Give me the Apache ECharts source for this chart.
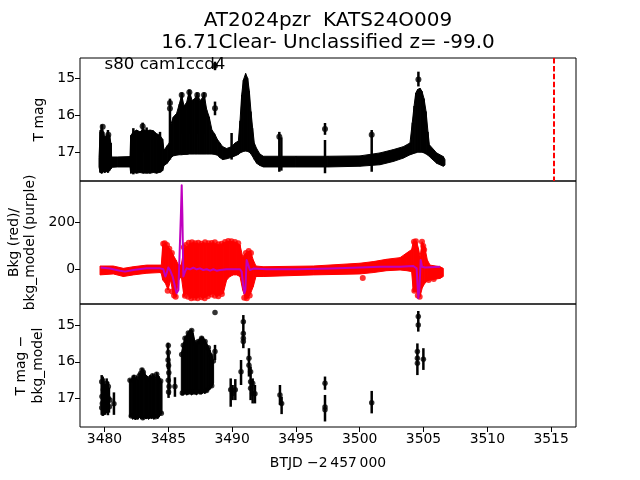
<!DOCTYPE html>
<html><head><meta charset="utf-8">
<script src="https://cdn.jsdelivr.net/npm/echarts@6/dist/echarts.min.js"></script>
<style>html,body{margin:0;padding:0;background:#fff}#c{width:640px;height:480px}</style>
</head><body><div id="c"></div>
<script>
// ---------- tick labels ----------
const xTicks = [3480, 3485, 3490, 3495, 3500, 3505, 3510, 3515];
const magTicks = [15, 16, 17];
const bkgTicks = [0, 200];

// ---------- panel 1 : T mag (dense band envelope) ----------
const p1BandT   = [3479.57,3479.66,3479.80,3479.91,3480.01,3480.17,3480.27,3480.38,3480.50,3480.56,3481.00,3482.00,3482.05,3482.26,3482.52,3482.78,3483.04,3483.30,3483.57,3483.83,3484.09,3484.35,3484.56,3484.66,3484.92,3485.08,3485.20,3485.39,3485.65,3485.86,3486.05,3486.23,3486.44,3486.65,3486.86,3487.07,3487.27,3487.48,3487.64,3487.80,3488.01,3488.21,3488.42,3488.63,3488.84,3489.05,3489.26,3489.57,3489.96,3490.23,3490.49,3490.62,3490.75,3490.88,3491.06,3491.22,3491.35,3491.48,3491.61,3491.74,3491.92,3492.18,3492.45,3495.00,3497.50,3500.02,3501.59,3502.64,3503.42,3503.94,3504.12,3504.26,3504.39,3504.54,3504.73,3504.88,3505.04,3505.20,3505.35,3505.46,3506.03,3506.55,3506.68];
const p1BandTop = [17.15,16.45,16.30,16.45,16.60,16.55,16.42,16.55,16.75,17.13,17.13,17.12,16.55,16.45,16.40,16.45,16.38,16.42,16.40,16.42,16.50,16.55,16.65,16.95,16.82,16.75,16.25,16.05,15.95,15.70,15.45,15.75,15.65,15.33,15.60,15.55,15.42,15.60,15.55,15.42,15.85,16.05,16.40,16.50,16.65,16.75,16.85,16.90,16.85,16.75,16.70,16.15,15.45,15.05,14.87,15.00,15.35,15.90,16.35,16.75,16.90,17.05,17.11,17.11,17.11,17.10,17.02,16.93,16.85,16.75,16.20,15.75,15.40,15.30,15.27,15.35,15.55,15.90,16.45,16.80,17.02,17.12,17.20];
const p1BandBot = [17.40,17.55,17.57,17.52,17.55,17.52,17.55,17.50,17.45,17.41,17.40,17.40,17.57,17.55,17.57,17.55,17.57,17.56,17.57,17.55,17.57,17.54,17.50,17.36,17.30,17.22,17.15,17.10,17.08,17.07,17.07,17.06,17.06,17.05,17.05,17.05,17.05,17.05,17.05,17.05,17.05,17.05,17.05,17.06,17.08,17.15,17.20,17.18,17.14,17.10,17.06,17.02,17.00,16.98,16.97,16.98,17.00,17.05,17.12,17.20,17.30,17.36,17.40,17.40,17.40,17.38,17.34,17.25,17.16,17.07,17.05,17.03,17.02,17.00,17.00,17.00,17.02,17.05,17.08,17.12,17.30,17.38,17.35];
// panel 1 error bars
const p1BarT  = [3479.70,3479.80,3479.91,3480.01,3480.17,3480.27,3480.38,3480.48,3482.26,3482.99,3483.30,3484.35,3485.13,3486.05,3486.65,3487.27,3487.80,3488.66,3488.66,3489.96,3493.70,3493.86,3497.28,3497.28,3500.94,3504.60];
const p1BarLo = [16.40,16.25,16.45,16.60,16.55,16.40,16.55,16.75,16.35,16.20,16.33,16.45,15.55,15.38,15.30,15.38,15.38,15.63,14.55,16.48,16.45,16.60,16.21,16.67,16.40,14.82];
const p1BarHi = [17.55,17.57,17.50,17.55,17.52,17.55,17.50,17.45,17.60,17.00,17.58,17.55,17.20,16.50,16.50,16.50,16.50,16.00,14.78,17.20,17.53,17.50,16.53,17.57,17.53,15.22];
// panel 1 points
const p1PtT   = [3479.86,3480.30,3482.99,3485.13,3485.13,3488.66,3488.66,3493.70,3497.28,3500.94,3504.60,3486.05,3486.65,3487.27,3487.80];
const p1PtMag = [16.31,16.53,16.30,15.67,15.82,15.81,14.66,16.58,16.37,16.53,15.03,15.45,15.38,15.45,15.45];
const refLineT = 3515.17;

// ---------- panel 2 : background ----------
const bkgBandT   = [3479.65,3480.69,3481.48,3482.26,3483.30,3484.35,3484.45,3484.56,3484.77,3484.98,3485.18,3485.39,3485.60,3485.81,3486.02,3486.23,3486.44,3486.70,3486.96,3487.22,3487.48,3487.74,3488.01,3488.27,3488.53,3488.79,3489.05,3489.31,3489.57,3489.83,3490.10,3490.36,3490.62,3490.83,3491.04,3491.25,3491.45,3491.66,3491.87,3492.45,3496.36,3500.02,3501.07,3502.11,3503.16,3503.68,3504.07,3504.20,3504.46,3504.60,3504.73,3504.90,3505.10,3505.30,3505.51,3506.29,3506.55];
const bkgBandTop = [14,14,4,11,18,18,18,104,111,97,83,61,40,18,18,90,97,111,114,111,108,114,111,111,114,108,104,114,118,120,118,114,104,54,68,76,76,40,14,11,14,26,33,43,50,70,85,118,118,90,54,118,95,40,18,11,4];
const bkgBandBot = [-24,-20,-31,-24,-17,-14,-17,-46,-60,-89,-46,-110,-117,-46,-31,-117,-103,-124,-120,-124,-117,-124,-117,-110,-103,-117,-110,-103,-46,-31,-24,-24,-31,-89,-124,-124,-103,-74,-31,-31,-24,-20,-14,-6,-3,-6,-10,-96,-96,-117,-117,-80,-60,-50,-46,-39,-31];
const bkgPtT = [3484.60,3484.72,3484.90,3485.08,3485.28,3484.95,3485.30,3485.45,3485.58,3486.22,3486.38,3486.60,3486.85,3487.10,3487.35,3487.60,3487.88,3488.15,3488.40,3488.65,3488.92,3489.18,3489.45,3489.70,3489.95,3490.22,3490.48,3486.30,3486.55,3486.80,3487.05,3487.30,3487.60,3487.85,3488.10,3488.40,3488.65,3488.92,3489.20,3490.95,3491.15,3491.38,3491.08,3491.30,3491.48,3504.25,3504.40,3504.88,3504.98,3505.05,3504.28,3504.55,3504.70,3505.40,3505.80,3500.24];
const bkgPtV = [110,112,104,88,70,-92,-95,-112,-118,95,104,114,116,112,114,110,116,112,113,116,108,110,117,121,120,117,112,-114,-118,-124,-122,-124,-120,-124,-116,-108,-114,-116,-106,-122,-124,-112,70,78,70,118,120,118,100,84,-92,-112,-118,-46,-42,-37];
const modelT = [3479.70,3480.43,3481.21,3481.61,3482.26,3483.30,3484.35,3484.61,3484.77,3484.87,3485.00,3485.13,3485.34,3485.52,3485.65,3485.79,3485.86,3485.99,3486.05,3486.10,3486.18,3486.31,3486.44,3486.70,3486.96,3487.22,3487.48,3487.74,3488.01,3488.27,3488.53,3488.79,3489.05,3489.57,3490.10,3490.62,3490.75,3490.88,3490.96,3491.04,3491.14,3491.27,3491.40,3491.66,3492.71,3495.06,3497.67,3500.02,3501.59,3503.16,3504.20,3504.46,3504.59,3504.67,3504.78,3504.88,3505.12,3506.29];
const modelV = [8,3,-6,-10,-3,4,4,0,-31,-17,8,-3,-31,-74,-103,-89,25,240,361,240,-31,-10,4,0,7,0,4,-3,0,-6,0,-6,-3,0,0,0,-10,-74,-103,-89,40,18,-3,3,0,0,3,8,11,11,14,4,-124,-89,40,11,8,11];

// ---------- panel 3 : T mag - bkg_model ----------
// dense blocks (envelopes)
const p3Blk2T   = [3481.95,3482.10,3482.21,3482.31,3482.42,3482.52,3482.63,3482.73,3482.83,3482.94,3483.04,3483.15,3483.25,3483.36,3483.46,3483.57,3483.67,3483.77,3483.88,3483.98,3484.09,3484.19,3484.30,3484.40,3484.51];
const p3Blk2Top = [16.47,16.49,16.40,16.36,16.45,16.38,16.48,16.33,16.27,16.18,16.22,16.31,16.36,16.40,16.45,16.36,16.42,16.33,16.38,16.45,16.29,16.37,16.40,16.49,16.58];
const p3Blk2Bot = [17.50,17.49,17.56,17.53,17.58,17.53,17.56,17.51,17.54,17.53,17.56,17.52,17.55,17.53,17.56,17.51,17.54,17.53,17.56,17.52,17.51,17.54,17.49,17.44,17.40];
const p3Blk4T   = [3486.02,3486.18,3486.31,3486.44,3486.57,3486.70,3486.83,3486.96,3487.09,3487.22,3487.35,3487.48,3487.61,3487.74,3487.88,3488.01,3488.14,3488.27,3488.40,3488.55];
const p3Blk4Top = [15.77,15.50,15.32,15.27,15.18,15.14,15.12,15.23,15.45,15.50,15.41,15.36,15.32,15.34,15.41,15.50,15.59,15.68,15.81,15.95];
const p3Blk4Bot = [16.90,16.90,16.86,16.90,16.86,16.87,16.90,16.86,16.87,16.90,16.84,16.86,16.87,16.84,16.86,16.81,16.78,16.75,16.69,16.58];
// error bars
const p3BarT  = [3479.78,3479.86,3479.93,3480.04,3480.17,3480.27,3480.35,3480.74,
  3484.98,3485.02,3485.08,3485.52,
  3488.66,3489.89,3490.04,3490.25,3490.70,3490.88,3491.32,3491.45,3491.61,3491.79,3493.75,3493.88,3497.28,3497.28,3500.94,3504.52,3504.59,3504.99];
const p3BarLo = [16.36,16.40,16.45,16.60,16.45,16.55,16.70,16.83,
  15.48,15.80,16.00,16.42,
  15.54,16.45,16.63,16.47,15.95,14.73,15.63,16.13,16.45,16.63,16.63,16.95,16.40,16.90,16.79,15.50,14.62,15.63];
const p3BarHi = [17.44,17.47,17.45,17.44,17.40,17.45,17.38,17.44,
  16.20,16.98,16.90,16.95,
  15.95,17.22,17.04,17.04,16.63,15.63,16.40,17.04,17.13,17.13,17.17,17.42,16.76,17.62,17.40,16.36,15.18,16.22];
const p3PtT = [3479.78,3479.80,3479.83,3479.91,3480.04,3480.17,3480.30,3480.30,3480.38,3480.43,3480.74,3479.78,3480.04,
  3482.00,3482.31,3482.73,3482.83,3482.94,3483.04,3483.36,3483.77,3484.09,3484.40,3482.10,3482.50,3483.00,3483.50,3484.00,3484.45,
  3485.00,3485.00,3484.98,3485.02,3485.04,3485.00,3485.06,3485.02,3485.52,
  3486.05,3486.18,3486.31,3486.57,3486.83,3487.09,3487.35,3487.61,3487.88,3488.14,3488.40,3488.53,3486.10,3486.50,3487.00,3487.50,3488.00,3488.40,
  3488.66,3488.66,3489.89,3490.04,3490.25,3490.70,3490.88,3490.88,3490.88,3490.88,3491.32,3491.32,3491.45,3491.45,3491.45,3491.61,3491.61,3491.79,3493.75,3493.88,3497.28,3497.28,3497.28,3500.94,3504.59,3504.59,3504.52,3504.52,3504.52,3504.99];
const p3PtMag = [16.54,16.94,17.13,16.76,17.04,16.58,16.67,16.99,17.22,17.04,17.14,17.25,17.30,
  16.50,16.42,16.38,16.32,16.22,16.28,16.45,16.38,16.34,16.52,17.47,17.50,17.52,17.48,17.49,17.40,
  15.56,15.75,15.95,16.10,16.30,16.50,16.67,16.82,16.67,
  15.80,15.55,15.36,15.22,15.15,15.48,15.45,15.36,15.45,15.62,15.84,15.98,16.85,16.83,16.82,16.82,16.78,16.65,
  15.72,14.66,16.76,16.86,16.76,16.27,14.91,15.23,15.36,15.45,15.90,16.09,16.27,16.54,16.72,16.58,16.86,16.87,16.90,17.13,16.58,17.23,17.30,17.11,14.77,15.00,15.72,15.90,16.04,15.93];

// ---------- helpers ----------
function segs(T, A, B) { const o = []; for (let i = 0; i < T.length - 1; i++) o.push([T[i], A[i], B[i], T[i+1], A[i+1], B[i+1]]); return o; }
function zip() { const a = Array.from(arguments); return a[0].map((_, i) => a.map(x => x[i])); }
function bandRender(color) {
  return function (params, api) {
    const a0 = api.coord([api.value(0), api.value(1)]);
    const a1 = api.coord([api.value(3), api.value(4)]);
    const b1 = api.coord([api.value(3), api.value(5)]);
    const b0 = api.coord([api.value(0), api.value(2)]);
    return { type: 'polygon', shape: { points: [a0, a1, b1, b0] }, style: { fill: color, stroke: color, lineWidth: 1 } };
  };
}
function barRender(color, lw) {
  return function (params, api) {
    const p = api.coord([api.value(0), api.value(1)]);
    const q = api.coord([api.value(0), api.value(2)]);
    return { type: 'line', shape: { x1: p[0], y1: p[1], x2: q[0], y2: q[1] }, style: { stroke: color, lineWidth: lw, fill: null } };
  };
}

const FONT = 'DejaVu Sans';
const GL = 80, GW = 496, GH = 123;
const tops = [58, 181, 304];
const grids = tops.map(t => ({ left: GL, top: t, width: GW, height: GH, show: true, borderColor: '#000', borderWidth: 1, backgroundColor: 'transparent' }));

const xAxes = [0, 1, 2].map(i => ({
  type: 'value', gridIndex: i, min: 3478.08, max: 3516.95,
  axisLine: { show: false }, splitLine: { show: false },
  axisTick: { show: i === 2, customValues: xTicks, length: 5, lineStyle: { color: '#000', width: 1 } },
  axisLabel: { show: i === 2, customValues: xTicks, formatter: v => String(v), fontSize: 13.9, fontFamily: FONT, color: '#000', margin: 5 }
}));
function yAx(i, min, max, inv, ticks) {
  return {
    type: 'value', gridIndex: i, min: min, max: max, inverse: inv,
    axisLine: { show: false }, splitLine: { show: false },
    axisTick: { show: true, customValues: ticks, length: 5, lineStyle: { color: '#000', width: 1 } },
    axisLabel: { show: true, customValues: ticks, formatter: v => String(v), fontSize: 13.9, fontFamily: FONT, color: '#000', margin: 5 }
  };
}
const yAxes = [yAx(0, 14.45, 17.78, true, magTicks), yAx(1, -149, 379, false, bkgTicks), yAx(2, 14.43, 17.77, true, magTicks)];

const bandEnc = { x: [0, 3], y: [1, 2, 4, 5] };
const series = [
  // panel 1
  { type: 'custom', xAxisIndex: 0, yAxisIndex: 0, renderItem: bandRender('#000'), data: segs(p1BandT, p1BandTop, p1BandBot), encode: bandEnc, silent: true },
  { type: 'custom', xAxisIndex: 0, yAxisIndex: 0, renderItem: barRender('#000', 2.5), data: zip(p1BarT, p1BarLo, p1BarHi), encode: { x: 0, y: [1, 2] }, silent: true },
  { type: 'scatter', xAxisIndex: 0, yAxisIndex: 0, data: zip(p1PtT, p1PtMag), symbolSize: 6, itemStyle: { color: '#000' }, silent: true,
    markLine: { silent: true, symbol: ['none', 'none'], label: { show: false }, lineStyle: { color: '#ff0000', width: 2, type: [5.5, 2.4] }, data: [{ xAxis: refLineT }] } },
  // panel 2
  { type: 'custom', xAxisIndex: 1, yAxisIndex: 1, renderItem: bandRender('#ff0000'), data: segs(bkgBandT, bkgBandTop, bkgBandBot), encode: bandEnc, silent: true },
  { type: 'scatter', xAxisIndex: 1, yAxisIndex: 1, data: zip(bkgPtT, bkgPtV), symbolSize: 6, itemStyle: { color: '#ff0000' }, silent: true },
  { type: 'line', xAxisIndex: 1, yAxisIndex: 1, data: zip(modelT, modelV), showSymbol: false, lineStyle: { color: '#bf00bf', width: 2, join: 'round' }, z: 5, silent: true },
  // panel 3
  { type: 'custom', xAxisIndex: 2, yAxisIndex: 2, renderItem: bandRender('#000'), data: segs(p3Blk2T, p3Blk2Top, p3Blk2Bot).concat(segs(p3Blk4T, p3Blk4Top, p3Blk4Bot)), encode: bandEnc, silent: true },
  { type: 'custom', xAxisIndex: 2, yAxisIndex: 2, renderItem: barRender('#000', 2.5), data: zip(p3BarT, p3BarLo, p3BarHi), encode: { x: 0, y: [1, 2] }, silent: true },
  { type: 'scatter', xAxisIndex: 2, yAxisIndex: 2, data: zip(p3PtT, p3PtMag), symbolSize: 5.5, itemStyle: { color: '#000' }, silent: true }
];

const txt = (x, y, text, size, align, rot) => ({
  type: 'text', x: x, y: y, rotation: rot || 0, silent: true,
  style: { text: text, fontSize: size, fontFamily: FONT, fill: '#000', align: align || 'center', verticalAlign: 'middle' }
});
const R = Math.PI / 2;
const graphic = [
  txt(328, 21, 'AT2024pzr  KATS24O009', 20),
  txt(328, 42.5, '16.71Clear- Unclassified z= -99.0', 20),
  txt(104.5, 65, 's80 cam1ccd4', 16.67, 'left'),
  txt(39, 119.5, 'T mag', 13.9, 'center', R),
  txt(14, 242.5, 'Bkg (red)/', 13.9, 'center', R),
  txt(30, 242.5, 'bkg_model (purple)', 13.9, 'center', R),
  txt(21, 365.5, 'T mag \u2212', 13.9, 'center', R),
  txt(38, 365.5, 'bkg_model', 13.9, 'center', R),
  txt(328, 463, 'BTJD \u22122\u2009457\u2009000', 13.9)
];

const chart = echarts.init(document.getElementById('c'), null, { renderer: 'canvas' });
chart.setOption({ animation: false, backgroundColor: '#fff', grid: grids, xAxis: xAxes, yAxis: yAxes, series: series, graphic: graphic });
</script></body></html>
